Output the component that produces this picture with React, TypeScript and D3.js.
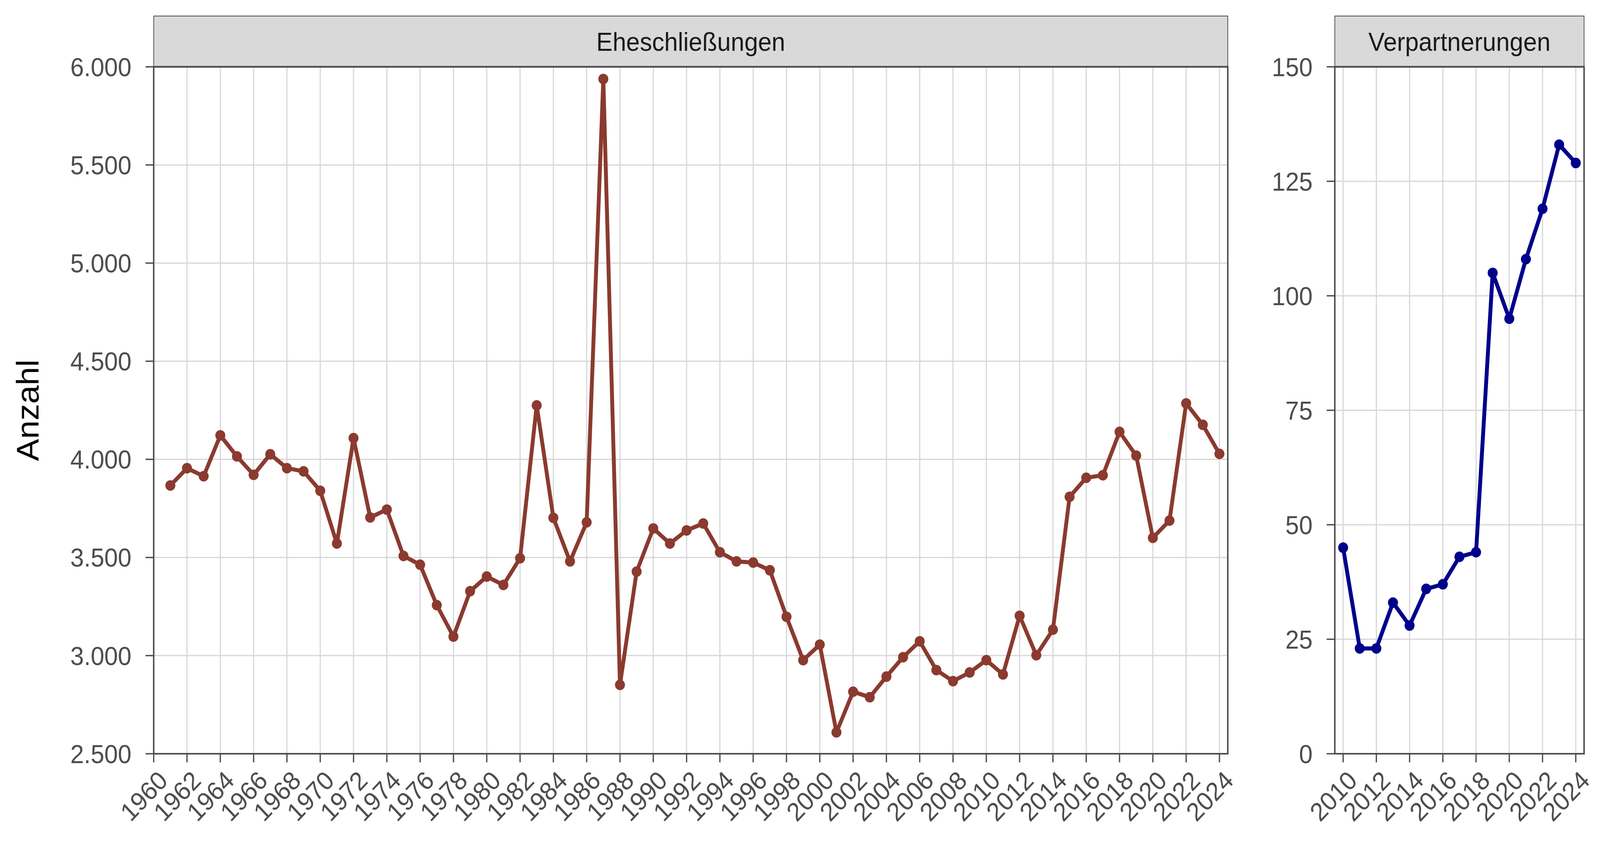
import { useEffect, useRef } from "react";
import * as d3 from "d3";

// Eheschließungen per year (left facet)
const marriageYears = [
  1961, 1962, 1963, 1964, 1965, 1966, 1967, 1968, 1969, 1970, 1971, 1972, 1973,
  1974, 1975, 1976, 1977, 1978, 1979, 1980, 1981, 1982, 1983, 1984, 1985, 1986,
  1987, 1988, 1989, 1990, 1991, 1992, 1993, 1994, 1995, 1996, 1997, 1998, 1999,
  2000, 2001, 2002, 2003, 2004, 2005, 2006, 2007, 2008, 2009, 2010, 2011, 2012,
  2013, 2014, 2015, 2016, 2017, 2018, 2019, 2020, 2021, 2022, 2023, 2024,
];
const marriageCounts = [
  3867, 3955, 3914, 4122, 4015, 3921, 4026, 3955, 3939, 3840, 3571, 4108, 3704,
  3744, 3508, 3463, 3257, 3097, 3328, 3403, 3360, 3496, 4275, 3702, 3480, 3679,
  5938, 2851, 3428, 3648, 3571, 3638, 3673, 3527, 3480, 3474, 3435, 3198, 2977,
  3056, 2609, 2816, 2788, 2893, 2992, 3073, 2926, 2870, 2914, 2977, 2904, 3203,
  3002, 3132, 3809, 3906, 3919, 4140, 4019, 3600, 3688, 4285, 4176, 4028,
];

// Verpartnerungen per year (right facet)
const partnerYears = [
  2010, 2011, 2012, 2013, 2014, 2015, 2016, 2017, 2018, 2019, 2020, 2021, 2022,
  2023, 2024,
];
const partnerCounts = [45, 23, 23, 33, 28, 36, 37, 43, 44, 105, 95, 108, 119, 133, 129];

const marriageYTicks = [2500, 3000, 3500, 4000, 4500, 5000, 5500, 6000];
const partnerYTicks = [0, 25, 50, 75, 100, 125, 150];
const marriageXTicks = [
  1960, 1962, 1964, 1966, 1968, 1970, 1972, 1974, 1976, 1978, 1980, 1982, 1984,
  1986, 1988, 1990, 1992, 1994, 1996, 1998, 2000, 2002, 2004, 2006, 2008, 2010,
  2012, 2014, 2016, 2018, 2020, 2022, 2024,
];
const partnerXTicks = [2010, 2012, 2014, 2016, 2018, 2020, 2022, 2024];

const FONT = "'Liberation Sans', Arial, Helvetica, sans-serif";
const AXIS_GREY = "#4d4d4d";
const GRID = "#d6d6d6";

const de = d3.formatLocale({
  decimal: ",",
  thousands: ".",
  grouping: [3],
  currency: ["", " €"],
});
const fmt = de.format(",");

type Facet = {
  title: string;
  years: number[];
  counts: number[];
  xTicks: number[];
  yTicks: number[];
  xDomain: [number, number];
  yDomain: [number, number];
  left: number;
  right: number;
  color: string;
};

const W = 4320;
const H = 2160;
const TOP = 171;
const BOTTOM = 1929;
const STRIP_TOP = 41;

const facets: Facet[] = [
  {
    title: "Eheschließungen",
    years: marriageYears,
    counts: marriageCounts,
    xTicks: marriageXTicks,
    yTicks: marriageYTicks,
    xDomain: [1960, 2024.5],
    yDomain: [2500, 6000],
    left: 415,
    right: 3315,
    color: "#8b3a2f",
  },
  {
    title: "Verpartnerungen",
    years: partnerYears,
    counts: partnerCounts,
    xTicks: partnerXTicks,
    yTicks: partnerYTicks,
    xDomain: [2009.5, 2024.5],
    yDomain: [0, 150],
    left: 3604,
    right: 4277,
    color: "#00008b",
  },
];

export default function App(): JSX.Element {
  const svgRef = useRef<SVGSVGElement | null>(null);

  useEffect(() => {
    if (!svgRef.current) return;
    const svg = d3.select(svgRef.current);
    svg.selectAll("*").remove();

    svg.append("rect").attr("width", W).attr("height", H).attr("fill", "#ffffff");

    facets.forEach((f) => {
      const x = d3.scaleLinear().domain(f.xDomain).range([f.left, f.right]);
      const y = d3.scaleLinear().domain(f.yDomain).range([BOTTOM, TOP]);
      const g = svg.append("g");

      // grid
      g.append("g")
        .selectAll("line")
        .data(f.yTicks)
        .join("line")
        .attr("x1", f.left)
        .attr("x2", f.right)
        .attr("y1", (d) => y(d))
        .attr("y2", (d) => y(d))
        .attr("stroke", GRID)
        .attr("stroke-width", 3);
      g.append("g")
        .selectAll("line")
        .data(f.xTicks)
        .join("line")
        .attr("x1", (d) => x(d))
        .attr("x2", (d) => x(d))
        .attr("y1", TOP)
        .attr("y2", BOTTOM)
        .attr("stroke", GRID)
        .attr("stroke-width", 3);

      // series
      const pts = f.years.map((yr, i) => [yr, f.counts[i]] as [number, number]);
      const line = d3
        .line<[number, number]>()
        .x((d) => x(d[0]))
        .y((d) => y(d[1]));
      g.append("path")
        .attr("d", line(pts) ?? "")
        .attr("fill", "none")
        .attr("stroke", f.color)
        .attr("stroke-width", 10.5)
        .attr("stroke-linejoin", "round");
      g.append("g")
        .selectAll("circle")
        .data(pts)
        .join("circle")
        .attr("cx", (d) => x(d[0]))
        .attr("cy", (d) => y(d[1]))
        .attr("r", 13.5)
        .attr("fill", f.color);

      // panel border
      g.append("rect")
        .attr("x", f.left)
        .attr("y", TOP)
        .attr("width", f.right - f.left)
        .attr("height", BOTTOM - TOP)
        .attr("fill", "none")
        .attr("stroke", AXIS_GREY)
        .attr("stroke-width", 4);

      // strip
      g.append("rect")
        .attr("x", f.left)
        .attr("y", STRIP_TOP)
        .attr("width", f.right - f.left)
        .attr("height", TOP - STRIP_TOP)
        .attr("fill", "#d9d9d9")
        .attr("stroke", AXIS_GREY)
        .attr("stroke-width", 2);
      g.append("line")
        .attr("x1", f.left)
        .attr("x2", f.right)
        .attr("y1", TOP)
        .attr("y2", TOP)
        .attr("stroke", AXIS_GREY)
        .attr("stroke-width", 4.5);
      g.append("text")
        .attr("x", (f.left + f.right) / 2)
        .attr("y", 130)
        .attr("text-anchor", "middle")
        .attr("font-family", FONT)
        .attr("font-size", 66)
        .attr("fill", "#1a1a1a")
        .text(f.title);

      // y axis
      const yAx = g.append("g");
      yAx
        .selectAll("line")
        .data(f.yTicks)
        .join("line")
        .attr("x1", f.left - 22)
        .attr("x2", f.left)
        .attr("y1", (d) => y(d))
        .attr("y2", (d) => y(d))
        .attr("stroke", AXIS_GREY)
        .attr("stroke-width", 3.5);
      yAx
        .selectAll("text")
        .data(f.yTicks)
        .join("text")
        .attr("x", f.left - 60)
        .attr("y", (d) => y(d))
        .attr("dy", "0.36em")
        .attr("text-anchor", "end")
        .attr("font-family", FONT)
        .attr("font-size", 66)
        .attr("fill", AXIS_GREY)
        .text((d) => fmt(d));

      // x axis
      const xAx = g.append("g");
      xAx
        .selectAll("line")
        .data(f.xTicks)
        .join("line")
        .attr("x1", (d) => x(d))
        .attr("x2", (d) => x(d))
        .attr("y1", BOTTOM)
        .attr("y2", BOTTOM + 22)
        .attr("stroke", AXIS_GREY)
        .attr("stroke-width", 3.5);
      xAx
        .selectAll("text")
        .data(f.xTicks)
        .join("text")
        .attr("transform", (d) => `translate(${x(d) + 8},1968) rotate(-45)`)
        .attr("dy", "0.72em")
        .attr("text-anchor", "end")
        .attr("font-family", FONT)
        .attr("font-size", 66)
        .attr("fill", AXIS_GREY)
        .text((d) => String(d));
    });

    // shared y title
    svg
      .append("text")
      .attr("transform", `translate(104,${(TOP + BOTTOM) / 2}) rotate(-90)`)
      .attr("text-anchor", "middle")
      .attr("font-family", FONT)
      .attr("font-size", 85)
      .attr("fill", "#000000")
      .text("Anzahl");
  }, []);

  // stretch the 4320x2160 drawing over the whole viewport
  return (
    <svg
      ref={svgRef}
      viewBox={`0 0 ${W} ${H}`}
      preserveAspectRatio="none"
      style={{
        position: "fixed",
        left: 0,
        top: 0,
        width: "100vw",
        height: "100vh",
        display: "block",
      }}
    />
  );
}
